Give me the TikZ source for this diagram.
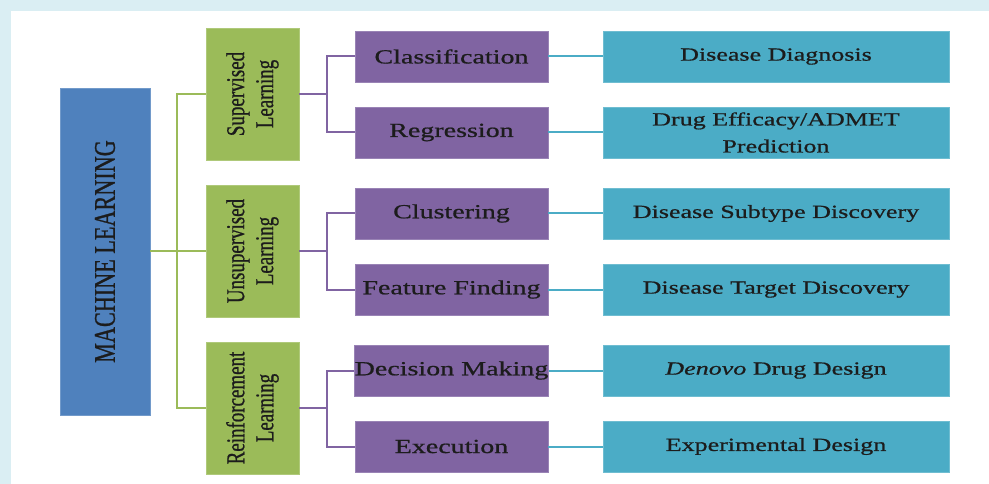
\documentclass[tikz,border=0pt]{standalone}
\usepackage{fontspec}
\setmainfont{Liberation Serif}[FakeStretch=1.4, FakeBold=0.8]
\newfontfamily\rotfont{Liberation Serif}[FakeStretch=0.74, FakeBold=0.8]
\usepackage{tikz}
\usepackage{xcolor}

\definecolor{paleblue}{HTML}{DAEEF3}
\definecolor{mlblue}{HTML}{4F81BD}
\definecolor{mlgreen}{HTML}{9BBB59}
\definecolor{mlpurple}{HTML}{8064A2}
\definecolor{mlteal}{HTML}{4BACC6}
\definecolor{ink}{HTML}{1C1C1C}

\begin{document}
\begin{tikzpicture}[x=1pt, y=-1pt,
    mainbox/.style={rectangle, fill=mlblue, draw=mlblue!80!white, rotate=90,
        minimum width=327pt, minimum height=90pt, inner sep=0pt,
        text=ink, font=\rotfont\fontsize{30}{34}\selectfont},
    kindbox/.style={rectangle, fill=mlgreen, draw=mlgreen!80!white, rotate=90,
        minimum width=132pt, minimum height=93pt, inner sep=0pt, align=center,
        text=ink, font=\rotfont\fontsize{25.6}{29}\selectfont},
    taskbox/.style={rectangle, fill=mlpurple, draw=mlpurple!80!white,
        minimum width=193pt, minimum height=51pt, inner sep=0pt,
        text=ink, font=\fontsize{20}{24}\selectfont},
    usebox/.style={rectangle, fill=mlteal, draw=mlteal!80!white,
        minimum width=346pt, minimum height=51pt, inner sep=0pt, align=center,
        text=ink, font=\fontsize{18.6}{27}\selectfont},
    gline/.style={draw=mlgreen, line width=2pt},
    pline/.style={draw=mlpurple, line width=2pt},
    tline/.style={draw=mlteal, line width=2pt}]

    % background
    \fill[paleblue] (0,0) rectangle (989,484);
    \fill[white] (11,11) rectangle (989,484);
    \useasboundingbox (0,0) rectangle (989,484);

    % machine learning
    \node[mainbox] (ml) at (105,251.5) {MACHINE LEARNING};

    \node[kindbox] (sup) at (252.5,94) {Supervised\\Learning};
    \node[kindbox] (uns) at (252.5,251) {Unsupervised\\Learning};
    \node[kindbox] (rei) at (252.5,408) {Reinforcement\\Learning};

    \node[taskbox] (cls) at (451.5,56.5) {Classification};
    \node[taskbox] (reg) at (451.5,132.5) {Regression};
    \node[taskbox] (clu) at (451.5,213.5) {Clustering};
    \node[taskbox] (fea) at (451.5,289.5) {Feature Finding};
    \node[taskbox] (dec) at (451.5,370.5) {Decision Making};
    \node[taskbox] (exe) at (451.5,446.5) {Execution};

    \node[usebox] (dia) at (776,56.5) {Disease Diagnosis};
    \node[usebox] (dru) at (776,132.5) {Drug Efficacy/ADMET\\Prediction};
    \node[usebox] (sub) at (776,213.5) {Disease Subtype Discovery};
    \node[usebox] (tar) at (776,289.5) {Disease Target Discovery};
    \node[usebox] (den) at (776,370.5) {\textit{Denovo} Drug Design};
    \node[usebox] (exp) at (776,446.5) {Experimental Design};

    % junctions
    \coordinate (gj) at (177,251);
    \coordinate (pj1) at (327,94);
    \coordinate (pj2) at (327,251);
    \coordinate (pj3) at (327,408);

    \draw[gline] (ml.south |- gj) -- (uns.north |- gj);
    \draw[gline] (sup.north) -| (gj) |- (rei.north);

    \draw[pline] (sup.south) -- (pj1);
    \draw[pline] (cls.west) -| (pj1) |- (reg.west);
    \draw[pline] (uns.south) -- (pj2);
    \draw[pline] (clu.west) -| (pj2) |- (fea.west);
    \draw[pline] (rei.south) -- (pj3);
    \draw[pline] (dec.west) -| (pj3) |- (exe.west);

    \draw[tline] (cls) -- (dia);
    \draw[tline] (reg) -- (dru);
    \draw[tline] (clu) -- (sub);
    \draw[tline] (fea) -- (tar);
    \draw[tline] (dec) -- (den);
    \draw[tline] (exe) -- (exp);
\end{tikzpicture}
\end{document}
